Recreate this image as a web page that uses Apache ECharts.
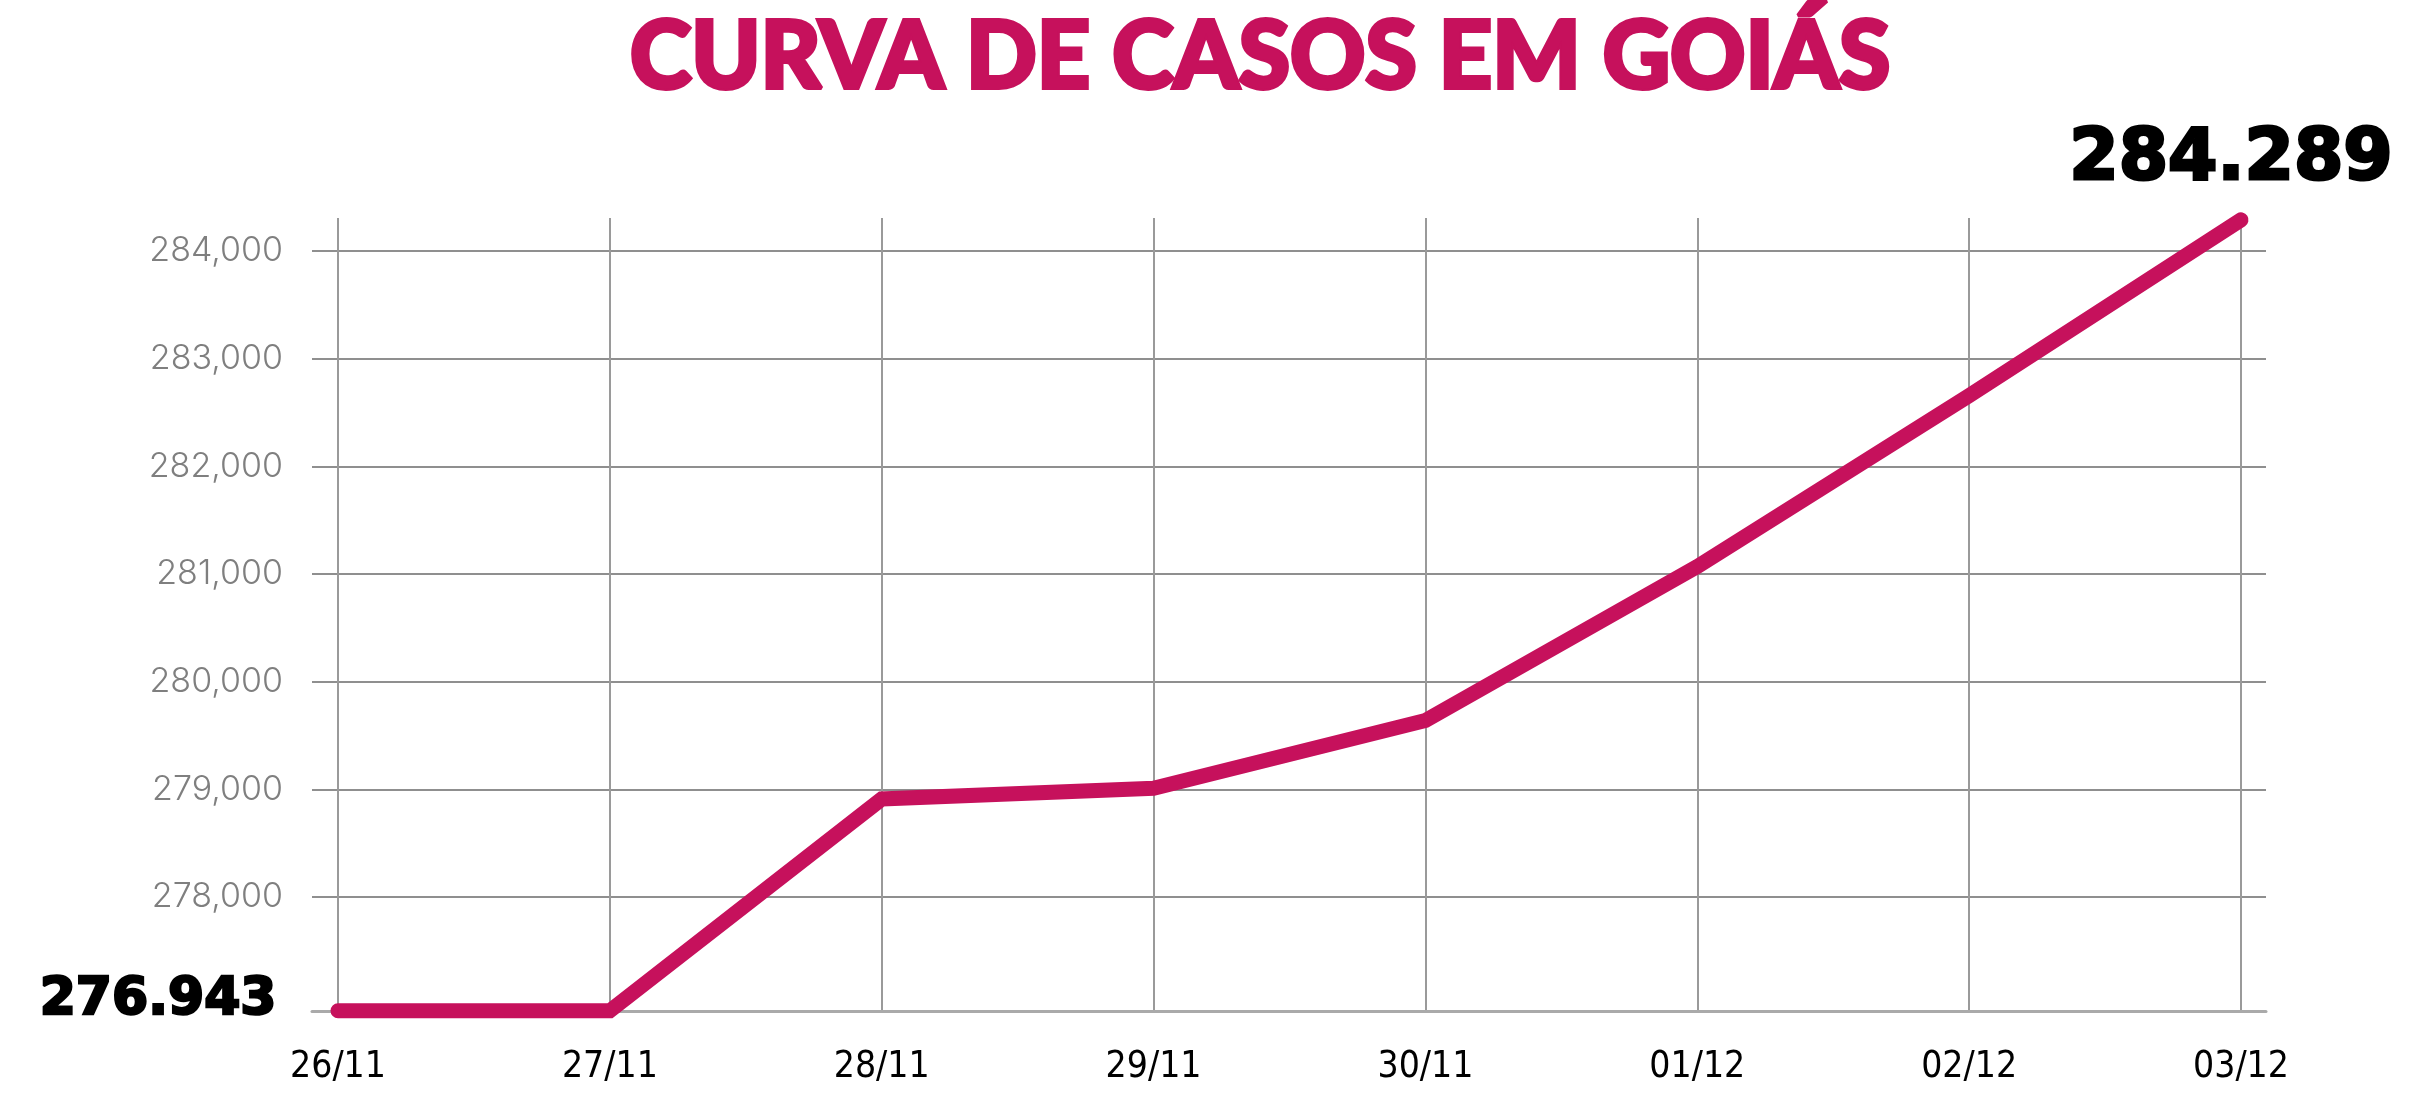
<!DOCTYPE html>
<html><head><meta charset="utf-8">
<script src="https://cdn.jsdelivr.net/npm/echarts@6/dist/echarts.min.js"></script>
<style>html,body{margin:0;padding:0;background:#fff}#c{width:2410px;height:1096px}</style>
</head><body><div id="c"></div>
<script>
const chartTitle = 'CURVA DE CASOS EM GOIÁS';
const categories = ['26/11', '27/11', '28/11', '29/11', '30/11', '01/12', '02/12', '03/12'];
const cases = [276943, 276943, 278910, 279010, 279640, 281068, 282657, 284289];
const yTicks = [278000, 279000, 280000, 281000, 282000, 283000, 284000];
const yMin = 276943, yMax = 284306;

const magenta = '#c6115c';
const dotSep = v => String(v).replace(/\B(?=(\d{3})+(?!\d))/g, '.');
const commaSep = v => String(v).replace(/\B(?=(\d{3})+(?!\d))/g, ',');
const xIdx = categories.map((c, i) => i);
const last = cases.length - 1;

const data = cases.map((v, i) => {
  const item = { value: [i, v] };
  if (i === 0) {
    item.label = { show: true, position: 'left', distance: 61, offset: [0, -10],
      fontFamily: 'DejaVu Sans', fontWeight: 'bold', fontSize: 52, color: '#000',
      textBorderColor: '#000', textBorderWidth: 2.5,
      formatter: p => dotSep(p.value[1]) };
  } else if (i === last) {
    item.label = { show: true, position: 'top', distance: 23, offset: [-10, 0],
      fontFamily: 'DejaVu Sans', fontWeight: 'bold', fontSize: 71, color: '#000',
      textBorderColor: '#000', textBorderWidth: 3,
      formatter: p => dotSep(p.value[1]) };
  }
  return item;
});

const chart = echarts.init(document.getElementById('c'), null, { renderer: 'canvas' });
chart.setOption({
  backgroundColor: '#fff',
  animation: false,
  title: {
    text: chartTitle, left: 625, top: 6,
    textStyle: { fontFamily: 'Lato', fontWeight: 900, fontSize: 93, color: magenta,
      textBorderColor: magenta, textBorderWidth: 4 }
  },
  grid: { left: 312, right: 144, top: 218, bottom: 85.2, containLabel: false },
  xAxis: {
    type: 'value', min: -0.0956, max: 7.092,
    axisLine: { show: true, onZero: false, lineStyle: { color: '#aaaaaa', width: 3 } },
    axisTick: { show: false, customValues: xIdx },
    splitLine: { show: true, lineStyle: { color: '#9a9a9a', width: 2 } },
    axisLabel: { customValues: xIdx, margin: 38, fontFamily: 'DejaVu Sans Condensed',
      fontSize: 37, color: '#000', formatter: v => categories[Math.round(v)] }
  },
  yAxis: {
    type: 'value', min: yMin, max: yMax,
    axisLine: { show: false },
    axisTick: { show: false, customValues: yTicks },
    splitLine: { show: true, lineStyle: { color: '#8f8f8f', width: 2 } },
    axisLabel: { customValues: yTicks, margin: 29, fontFamily: 'Inter', fontWeight: 300,
      fontSize: 34, color: '#7f7f7f', formatter: v => commaSep(v) }
  },
  series: [{
    type: 'line', data: data, clip: false,
    symbol: 'circle', symbolSize: 1, showSymbol: true,
    itemStyle: { color: magenta },
    lineStyle: { color: magenta, width: 15, cap: 'round', join: 'miter' },
    label: { show: false }
  }]
});
</script></body></html>
